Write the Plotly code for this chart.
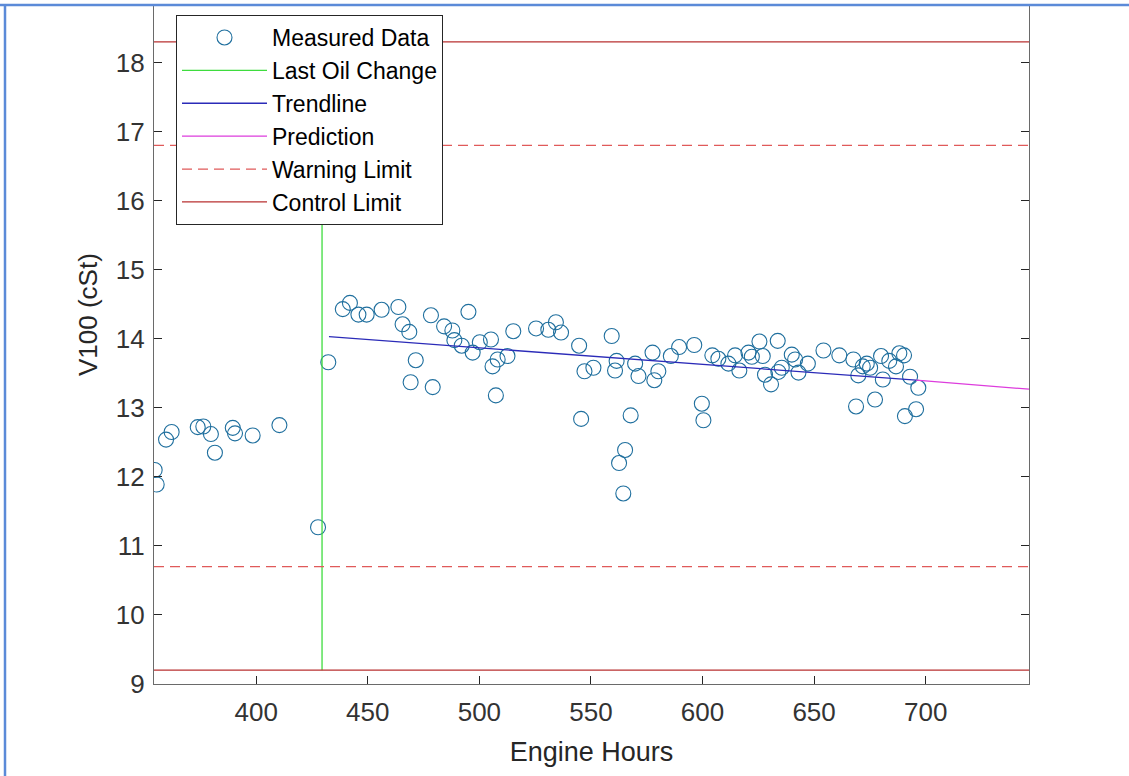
import plotly.graph_objects as go

# ---------------- data ----------------
hours = [354.5, 355.4, 359.6, 362.1, 373.8, 376.3, 379.7, 381.5, 389.5, 390.5,
         398.4, 410.4, 427.7,
         432.3, 438.8, 442.0, 445.8, 449.5, 456.2, 463.7, 465.6, 468.6, 471.5,
         469.2, 479.1, 478.3, 484.2, 487.9, 488.8, 492.1, 495.1, 497.0, 500.2,
         505.2, 505.9, 508.2, 507.4, 512.6, 515.2, 525.4, 530.9, 534.3, 536.6,
         544.7, 547.1, 551.1, 545.6, 559.3, 561.5, 560.8, 567.8, 565.3, 562.6,
         564.5, 569.8, 571.3, 577.6, 580.2, 578.4, 585.8, 589.5, 596.3, 599.7,
         600.4, 604.4, 607.1, 611.6, 614.6, 616.5, 620.6, 622.1, 625.5, 627.0,
         628.0, 630.7, 633.7, 634.0, 635.5, 640.0, 641.5, 643.0, 647.2, 654.2,
         661.3, 667.6, 668.8, 669.8, 671.8, 673.6, 675.1, 677.3, 680.0, 680.8,
         683.7, 686.7, 688.2, 690.3, 690.7, 693.0, 695.7, 696.7]
v100 = [12.10, 11.89, 12.54, 12.65, 12.72, 12.73, 12.62, 12.35, 12.71, 12.63,
        12.60, 12.75, 11.27,
        13.66, 14.43, 14.52, 14.35, 14.35, 14.42, 14.46, 14.21, 14.10, 13.69,
        13.37, 13.30, 14.34, 14.18, 14.12, 13.98, 13.90, 14.39, 13.80, 13.95,
        13.99, 13.60, 13.70, 13.18, 13.75, 14.11, 14.15, 14.13, 14.24, 14.09,
        13.90, 13.53, 13.58, 12.84, 14.04, 13.68, 13.54, 12.89, 12.39, 12.20,
        11.76, 13.64, 13.46, 13.80, 13.53, 13.40, 13.75, 13.88, 13.91, 13.06,
        12.82, 13.76, 13.71, 13.64, 13.76, 13.54, 13.80, 13.74, 13.96, 13.75,
        13.48, 13.34, 13.97, 13.52, 13.58, 13.77, 13.70, 13.51, 13.64, 13.83,
        13.76, 13.70, 13.02, 13.47, 13.60, 13.64, 13.58, 13.12, 13.75, 13.41,
        13.68, 13.60, 13.79, 13.76, 12.88, 13.45, 12.98, 13.29]

oil_change_hour = 429.5
trend_hours = [432.6, 695.7]
trend_v100 = [14.03, 13.40]
pred_hours = [695.7, 746.3]
pred_v100 = [13.40, 13.27]
warning_limits = [10.7, 16.8]
control_limits = [9.2, 18.3]

x_range = [354.2, 746.3]
y_range = [9.0, 18.82]
x_ticks = [400, 450, 500, 550, 600, 650, 700]
y_ticks = [9, 10, 11, 12, 13, 14, 15, 16, 17, 18]

# ---------------- figure ----------------
FONT = "Liberation Sans, Arial, Helvetica, sans-serif"
TXT = "#262626"

fig = go.Figure()

fig.add_trace(go.Scatter(
    x=hours, y=v100, mode="markers", name="Measured Data", legendgroup="a",
    marker=dict(symbol="circle-open", size=15, color="#1f6f9e",
                line=dict(width=1.1, color="#1f6f9e"))))

fig.add_trace(go.Scatter(
    x=[oil_change_hour, oil_change_hour], y=control_limits, mode="lines",
    name="Last Oil Change", legendgroup="b",
    line=dict(color="#3edc3e", width=1.3)))

fig.add_trace(go.Scatter(
    x=trend_hours, y=trend_v100, mode="lines", name="Trendline", legendgroup="c",
    line=dict(color="#2b2bb8", width=1.3)))

fig.add_trace(go.Scatter(
    x=pred_hours, y=pred_v100, mode="lines", name="Prediction", legendgroup="d",
    line=dict(color="#dd3ddd", width=1.3)))

wx, wy = [], []
for lim in warning_limits:
    wx += [x_range[0], x_range[1], None]
    wy += [lim, lim, None]
fig.add_trace(go.Scatter(
    x=wx, y=wy, mode="lines", name="Warning Limit", legendgroup="e",
    line=dict(color="#e05a5a", width=1.3, dash="10px,6px")))

cx, cy = [], []
for lim in control_limits:
    cx += [x_range[0], x_range[1], None]
    cy += [lim, lim, None]
fig.add_trace(go.Scatter(
    x=cx, y=cy, mode="lines", name="Control Limit", legendgroup="f",
    line=dict(color="#b83030", width=1.3)))

L, R, T, B = 154, 100, 6, 92
W, H = 1129, 776
pw, ph = W - L - R, H - T - B

def px_x(p):
    return (p - L) / pw

def px_y(p):
    return (H - B - p) / ph

fig.update_layout(
    width=W, height=H,
    margin=dict(l=L, r=R, t=T, b=B, autoexpand=False),
    paper_bgcolor="white", plot_bgcolor="white",
    font=dict(family=FONT, color=TXT, size=26),
    showlegend=True,
    legend=dict(x=px_x(176), y=px_y(15), xanchor="left", yanchor="top",
                bgcolor="white", bordercolor="#262626", borderwidth=1,
                font=dict(size=23, family=FONT, color="#000000"),
                itemwidth=85, traceorder="normal"),
    xaxis=dict(range=x_range, tickvals=x_ticks, ticks="inside", ticklen=8,
               tickcolor="#262626", showline=True, linecolor="#6a6a6a",
               linewidth=1.3, mirror=False, showgrid=False, zeroline=False,
               tickfont=dict(size=26, color="#333333"),
               ticklabelstandoff=5,
               title=dict(text="Engine Hours", font=dict(size=27, color="#262626"),
                          standoff=15)),
    yaxis=dict(range=y_range, tickvals=y_ticks, ticks="inside", ticklen=8,
               tickcolor="#262626", showline=True, linecolor="#6a6a6a",
               linewidth=1.3, mirror="ticks", showgrid=False, zeroline=False,
               tickfont=dict(size=26, color="#333333"),
               ticklabelstandoff=3),
    annotations=[dict(text="V100 (cSt)", textangle=-90, showarrow=False,
                      xref="paper", yref="paper", x=px_x(88), y=px_y(315),
                      xanchor="center", yanchor="middle",
                      font=dict(size=26, color="#262626", family=FONT))],
    shapes=[
        dict(type="line", xref="paper", yref="paper", x0=px_x(0), x1=px_x(W),
             y0=px_y(5), y1=px_y(5), line=dict(color="#5b8ad8", width=2.5)),
        dict(type="line", xref="paper", yref="paper", x0=px_x(5), x1=px_x(5),
             y0=px_y(5), y1=px_y(H), line=dict(color="#5b8ad8", width=2.5)),
    ],
)

fig.write_html("out.html",
               config={"displayModeBar": False},
               post_script="document.body.style.margin='0';"
                           "document.body.style.padding='0';")
